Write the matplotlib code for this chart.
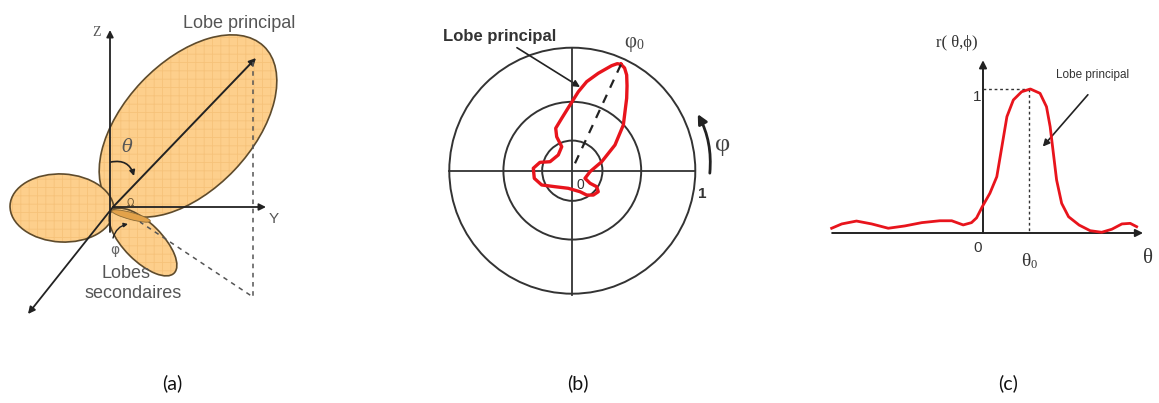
import numpy as np
import matplotlib
matplotlib.use("Agg")
import matplotlib.pyplot as plt
from matplotlib.patches import Ellipse, Circle, FancyArrowPatch

plt.rcParams['hatch.linewidth'] = 0.6

W, H = 1159, 403

# --- (a) lobes 3D : centre (px), largeur, hauteur, angle ---
lobe_centres = [(188, 126), (62, 208), (143, 242)]
lobe_largeurs = [220, 104, 88]
lobe_hauteurs = [128, 68, 38]
lobe_angles = [-46.5, 3, 45]
origine_a = (113, 207)
axe_z_fin = (110, 30)
axe_y_fin = (266, 207)
axe_x_fin = (28, 314)
vecteur_fin = (256, 58)
projection = [(253, 62), (253, 297), (140, 222)]

# --- (b) diagramme polaire (rayon externe = 1) ---
cercles_r = [1.0, 0.56, 0.245]
lobe_x = [0.396, 0.425, 0.442, 0.445, 0.442, 0.415, 0.347, 0.239, 0.144, 0.103,
          0.144, 0.198, 0.211, 0.171, 0.117, 0.063, -0.033, -0.141, -0.249,
          -0.309, -0.317, -0.263, -0.181, -0.114, -0.086, -0.127, -0.135, -0.086,
          -0.019, 0.049, 0.117, 0.211, 0.320, 0.365, 0.396]
lobe_y = [0.865, 0.835, 0.778, 0.690, 0.589, 0.372, 0.209, 0.073, -0.008, -0.062,
          -0.102, -0.130, -0.171, -0.198, -0.198, -0.171, -0.143, -0.130, -0.116,
          -0.062, 0.020, 0.068, 0.073, 0.128, 0.195, 0.276, 0.345, 0.426, 0.534,
          0.642, 0.724, 0.792, 0.854, 0.870, 0.865]
phi0 = (0.396, 0.865)

# --- (c) r(theta, phi) ---
theta = [-3.29, -3.07, -2.75, -2.42, -2.06, -1.70, -1.33, -0.94, -0.68, -0.43,
         -0.25, -0.14, -0.015, 0.15, 0.30, 0.41, 0.52, 0.66, 0.84, 1.03, 1.24,
         1.38, 1.46, 1.53, 1.60, 1.71, 1.86, 2.09, 2.33, 2.58, 2.80, 3.02, 3.20,
         3.34]
r_val = [0.033, 0.063, 0.083, 0.063, 0.033, 0.049, 0.072, 0.085, 0.085, 0.056,
         0.072, 0.105, 0.183, 0.276, 0.391, 0.599, 0.808, 0.924, 0.981, 1.0, 0.970,
         0.877, 0.738, 0.553, 0.368, 0.206, 0.113, 0.055, 0.016, 0.005, 0.026,
         0.063, 0.067, 0.044]
theta0 = 1.0

fig = plt.figure(figsize=(W / 100, H / 100), dpi=100)
fig.patch.set_facecolor('white')


def boite(x0, y0, x1, y1):
    # rectangle en pixels -> coordonnees figure
    return [x0 / W, (H - y1) / H, (x1 - x0) / W, (y1 - y0) / H]


def fleche(ax, a, b, lw=1.3, color='#222222', style='-|>', ms=10, rad=0.0):
    p = FancyArrowPatch(a, b, arrowstyle=style, mutation_scale=ms, lw=lw,
                        color=color, connectionstyle=f"arc3,rad={rad}",
                        shrinkA=0, shrinkB=0)
    ax.add_patch(p)


# ================= (a) =================
ax_a = fig.add_axes(boite(0, 0, 310, 340))
ax_a.set_xlim(0, 310)
ax_a.set_ylim(340, 0)
ax_a.axis('off')

for c, w, h, ang in zip(lobe_centres, lobe_largeurs, lobe_hauteurs, lobe_angles):
    ax_a.add_patch(Ellipse(c, w, h, angle=ang, facecolor='#FDCF8C',
                           edgecolor='#F6C27A', hatch='++', lw=0))
    ax_a.add_patch(Ellipse(c, w, h, angle=ang, facecolor='none',
                           edgecolor='#5E4B2C', lw=1.2))
ax_a.add_patch(Ellipse((131, 216), 40, 7, angle=15, facecolor='#E2A24A',
                       edgecolor='#8A6A35', lw=0.6))

ax_a.plot([p[0] for p in projection], [p[1] for p in projection],
          ls=(0, (3, 3)), color='#555555', lw=1.1)
fleche(ax_a, (110, 232), axe_z_fin, lw=1.3)
fleche(ax_a, origine_a, axe_y_fin, lw=1.3)
fleche(ax_a, origine_a, axe_x_fin, lw=1.3)
fleche(ax_a, origine_a, vecteur_fin, lw=1.4)
fleche(ax_a, (111, 162), (134, 176), lw=1.2, rad=-0.45, ms=8)
fleche(ax_a, (113, 238), (128, 224), lw=1.0, rad=-0.3, ms=6)

ax_a.text(97, 33, 'Z', fontsize=10, color='#555555', family='Liberation Serif',
          ha='center', va='center')
ax_a.text(274, 219, 'Y', fontsize=11, color='#555555', family='Liberation Sans',
          ha='center', va='center')
ax_a.text(127, 147, 'θ', fontsize=13, color='#555555', family='DejaVu Serif',
          style='italic', ha='center', va='center')
ax_a.text(130, 203, 'Ω', fontsize=7, color='#6E5530', ha='center', va='center')
ax_a.text(115, 250, 'φ', fontsize=10, color='#666666', ha='center', va='center')
ax_a.text(239, 24, 'Lobe principal', fontsize=13, color='#555555',
          family='Liberation Sans', ha='center', va='center')
ax_a.text(126, 274, 'Lobes', fontsize=13, color='#555555',
          family='Liberation Sans', ha='center', va='center')
ax_a.text(133, 294, 'secondaires', fontsize=13, color='#555555',
          family='Liberation Sans', ha='center', va='center')

# ================= (b) =================
R = 123.0
cx, cy = 572.3, 170.7
ax_b = fig.add_axes(boite(cx - 1.4 * R, cy - 1.4 * R, cx + 1.4 * R, cy + 1.4 * R))
ax_b.set_xlim(-1.4, 1.4)
ax_b.set_ylim(-1.4, 1.4)
ax_b.set_aspect('equal')
ax_b.axis('off')

for r in cercles_r:
    ax_b.add_patch(Circle((0, 0), r, fill=False, edgecolor='#333333', lw=1.4))
ax_b.plot([-1, 1], [0, 0], color='#333333', lw=1.3)
ax_b.plot([0, 0], [-1.01, 1.0], color='#333333', lw=1.3)
ax_b.plot(lobe_x, lobe_y, color='#E8141C', lw=2.4, solid_joinstyle='round')
ax_b.plot([0.022, phi0[0]], [0.06, phi0[1]], color='#222222', lw=1.6,
          ls=(0, (4, 3.5)))

fleche(ax_b, (-0.45, 1.0), (0.063, 0.68), lw=1.2, ms=10)
fleche(ax_b, (1.118, -0.02), (1.02, 0.46), lw=2.0, rad=0.15, ms=14)
ax_b.text(-0.588, 1.09, 'Lobe principal', fontsize=12, fontweight='bold',
          color='#333333', family='Liberation Sans', ha='center', va='center')
ax_b.text(0.47, 1.045, 'φ', fontsize=15, color='#444444',
          family='Liberation Serif', ha='center', va='center')
ax_b.text(0.55, 1.02, '0', fontsize=10, color='#444444',
          family='Liberation Serif', ha='center', va='center')
ax_b.text(1.22, 0.21, 'φ', fontsize=19, color='#444444',
          family='Liberation Serif', ha='center', va='center')
ax_b.text(1.06, -0.19, '1', fontsize=11, fontweight='bold', color='#333333',
          family='Liberation Sans', ha='center', va='center')
ax_b.text(0.063, -0.116, '0', fontsize=10, color='#333333',
          family='Liberation Sans', ha='center', va='center')

# ================= (c) =================
sx, sy = 46.0, 144.0
x0c, y0c = 983.0, 233.0
xl, yl = (-3.45, 3.8), (-0.4, 1.45)
ax_c = fig.add_axes(boite(x0c + xl[0] * sx, y0c - yl[1] * sy,
                          x0c + xl[1] * sx, y0c - yl[0] * sy))
ax_c.set_xlim(*xl)
ax_c.set_ylim(*yl)
ax_c.axis('off')

fleche(ax_c, (-3.28, 0), (3.48, 0), lw=1.4, ms=11)
fleche(ax_c, (0, 0), (0, 1.2), lw=1.4, ms=11)
ax_c.plot([0, theta0], [1, 1], color='#333333', lw=1.0, ls=(0, (2, 2)))
ax_c.plot([theta0, theta0], [1, 0], color='#333333', lw=1.0, ls=(0, (2, 2)))
ax_c.plot(theta, r_val, color='#E8141C', lw=2.0, solid_joinstyle='round')

fleche(ax_c, (2.28, 0.96), (1.30, 0.6), lw=1.2, ms=10)
ax_c.text(-0.56, 1.32, 'r( θ,ϕ)', fontsize=12, color='#333333',
          family='Liberation Serif', ha='center', va='center')
ax_c.text(-0.13, 0.944, '1', fontsize=11, color='#333333',
          family='Liberation Sans', ha='center', va='center')
ax_c.text(-0.11, -0.104, '0', fontsize=11, color='#333333',
          family='Liberation Sans', ha='center', va='center')
ax_c.text(0.93, -0.2, 'θ', fontsize=14, color='#333333',
          family='Liberation Serif', ha='center', va='center')
ax_c.text(1.1, -0.225, '0', fontsize=9, color='#333333',
          family='Liberation Serif', ha='center', va='center')
ax_c.text(3.59, -0.174, 'θ', fontsize=15, color='#333333',
          family='Liberation Serif', ha='center', va='center')
ax_c.text(2.39, 1.097, 'Lobe principal', fontsize=8.5, color='#333333',
          family='Liberation Sans', ha='center', va='center')

# ================= etiquettes =================
for lab, xp in zip(['(a)', '(b)', '(c)'], [172, 578, 1008]):
    fig.text(xp / W, 1 - 383 / H, lab, fontsize=14, color='#111111',
             family='Lato', ha='center', va='center')

fig.savefig('out.png', dpi=100, facecolor='white')
